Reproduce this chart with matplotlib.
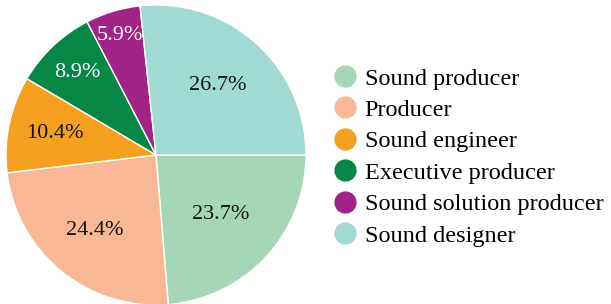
import numpy as np
import matplotlib.pyplot as plt
from matplotlib.lines import Line2D

plt.rcParams['font.family'] = ['Liberation Serif', 'DejaVu Serif']

# Data
roles = ['Sound producer', 'Producer', 'Sound engineer', 'Executive producer',
         'Sound solution producer', 'Sound designer']
shares = [23.7, 24.4, 10.4, 8.9, 5.9, 26.7]
colors = ['#a5d7b7', '#f9b895', '#f6a01f', '#068746', '#a02385', '#a1dad3']
label_colors = ['#111111', '#111111', '#111111', 'white', 'white', '#111111']
label_dist = [0.59, 0.65, 0.69, 0.76, 0.83, 0.62]

fig = plt.figure(figsize=(6.11, 3.04), dpi=100)
ax = fig.add_axes([6 / 611, -1 / 304, 300 / 611, 300 / 304])

wedges, texts, autotexts = ax.pie(shares, colors=colors, startangle=0, counterclock=False,
                                  autopct='%.1f%%', radius=1,
                                  wedgeprops=dict(edgecolor='white', linewidth=1),
                                  textprops=dict(fontsize=16))
ax.set_xlim(-1.0, 1.0)
ax.set_ylim(-1.0, 1.0)

# move the percentage labels to where they sit in the original
for w, t, d, c in zip(wedges, autotexts, label_dist, label_colors):
    ang = np.deg2rad((w.theta1 + w.theta2) / 2)
    t.set_position((d * np.cos(ang), d * np.sin(ang)))
    t.set_color(c)

handles = [Line2D([], [], marker='o', linestyle='', markersize=15,
                  markerfacecolor=c, markeredgecolor=c) for c in colors]
fig.legend(handles, roles, loc='upper left', bbox_to_anchor=(333 / 611, 1 - 67.5 / 304),
           frameon=False, fontsize=17.5, handletextpad=0.3, labelspacing=0.39,
           borderpad=0, borderaxespad=0, handlelength=1.0)

fig.savefig('out.png', dpi=100)
